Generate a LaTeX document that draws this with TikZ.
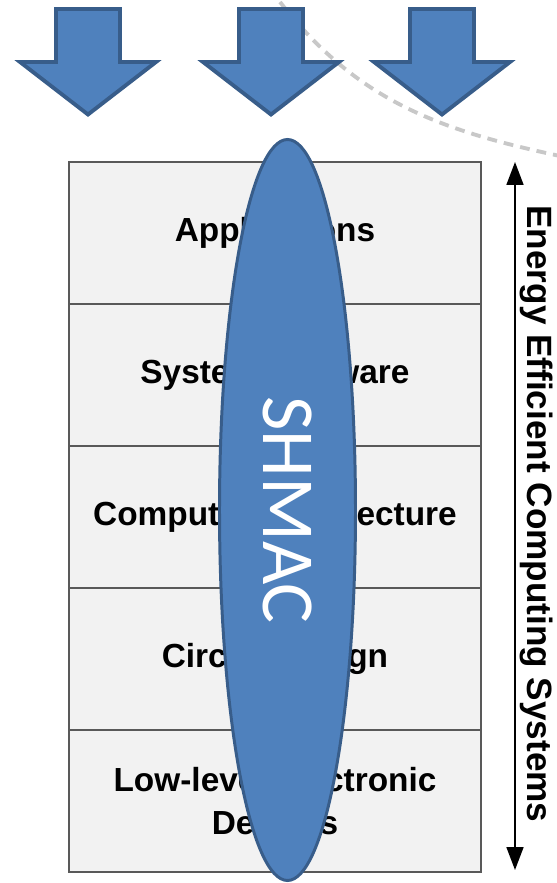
\documentclass[tikz,border=0pt]{standalone}
\usepackage{fontspec}
\setmainfont{Liberation Sans}
\newfontfamily\carlito{Carlito}
\usepackage{tikz}
\usetikzlibrary{positioning,shapes.geometric,arrows.meta}

\definecolor{officeblue}{HTML}{4F81BD}
\definecolor{officeedge}{HTML}{385D8A}
\definecolor{layerfill}{HTML}{F2F2F2}
\definecolor{layerline}{HTML}{595959}
\definecolor{dashgray}{HTML}{C8C8C8}

\tikzset{
  layer/.style={draw=layerline, fill=layerfill, line width=0.6pt, minimum width=4.12cm, minimum height=1.42cm,
    outer sep=0pt, inner sep=0pt, align=center, font=\bfseries\fontsize{9.5}{12.2}\selectfont},
  blockarrow/.style={fill=officeblue, draw=officeedge, line width=1.1pt},
  shmac/.style={ellipse, fill=officeblue, draw=officeedge, line width=0.85pt, minimum width=7.41cm, minimum height=1.36cm,
    inner sep=0pt, text=white, font=\carlito\fontsize{21.3}{24}\selectfont}
}

\begin{document}
\begin{tikzpicture}
\useasboundingbox (0,0) rectangle (5.56,8.83);

% layers of the stack
\node[layer] (app) at (2.75,6.50) {Applications};
\node[layer, below=0pt of app] (syssw) {System Software};
\node[layer, below=0pt of syssw] (arch) {Computer Architecture};
\node[layer, below=0pt of arch] (circ) {Circuit Design};
\node[layer, below=0pt of circ] (dev) {Low-level Electronic\\Devices};

% faint dashed curve behind the arrows
\draw[dashgray, line width=1.1pt, dash pattern=on 2.8pt off 2pt] (2.80,8.81) to [out=-52, in=168] (5.60,7.27);

% arrows pointing down
\foreach \x in {0.88,2.71,4.42}
  \draw[blockarrow] (\x-0.32,8.74) -- (\x+0.32,8.74) -- (\x+0.32,8.21) -- (\x+0.68,8.21) -- (\x,7.685)
    -- (\x-0.68,8.21) -- (\x-0.32,8.21) -- cycle;

\node[shmac, rotate=-90] (shmac) at (2.875,3.73) {SHMAC};

% span of the stack
\coordinate (top) at (5.15,7.21);
\coordinate (bot) at (5.15,0.13);
\draw[{Triangle[length=6.5pt,width=4.8pt]}-{Triangle[length=6.5pt,width=4.8pt]}, line width=0.5pt] (top) -- (bot);
\node[rotate=-90, anchor=base, font=\bfseries\fontsize{10}{12}\selectfont, inner sep=0pt] (eecs) at (5.27,3.69) {Energy Efficient Computing Systems};
\end{tikzpicture}
\end{document}
